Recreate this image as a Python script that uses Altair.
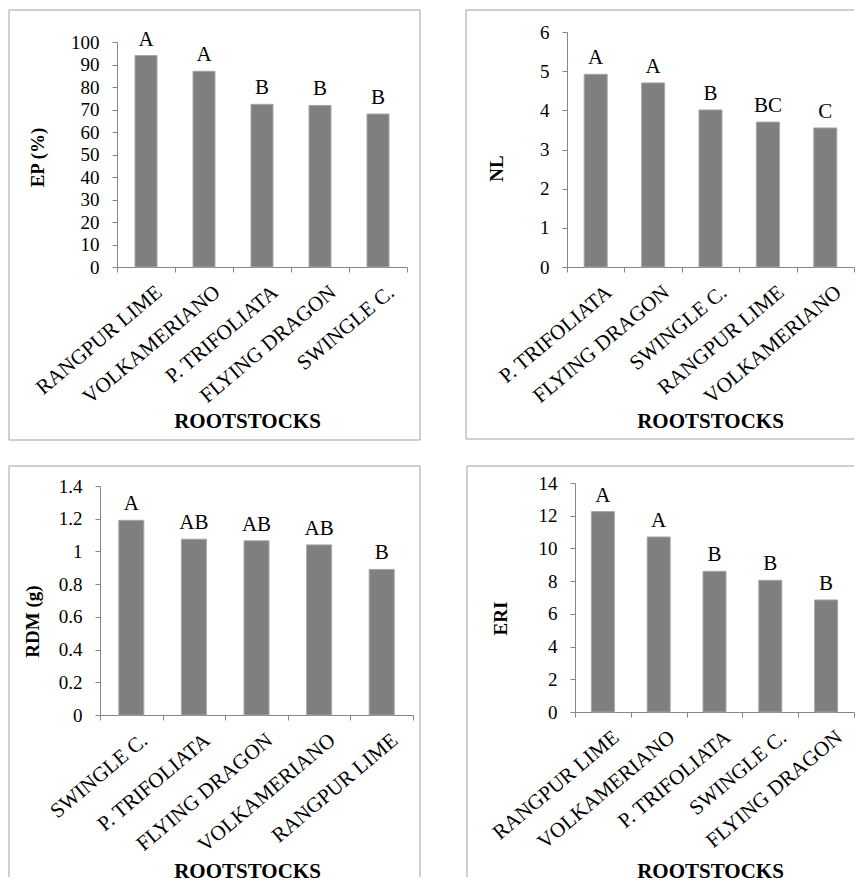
import altair as alt
import pandas as pd

# ---------------- data ----------------
ep_cats = ["RANGPUR LIME", "VOLKAMERIANO", "P. TRIFOLIATA", "FLYING DRAGON", "SWINGLE C."]
ep_vals = [94, 87, 72.3, 71.8, 68]
ep_letters = ["A", "A", "B", "B", "B"]
ep_ticks = [0, 10, 20, 30, 40, 50, 60, 70, 80, 90, 100]

nl_cats = ["P. TRIFOLIATA", "FLYING DRAGON", "SWINGLE C.", "RANGPUR LIME", "VOLKAMERIANO"]
nl_vals = [4.92, 4.70, 4.01, 3.70, 3.55]
nl_letters = ["A", "A", "B", "BC", "C"]
nl_ticks = [0, 1, 2, 3, 4, 5, 6]

rdm_cats = ["SWINGLE C.", "P. TRIFOLIATA", "FLYING DRAGON", "VOLKAMERIANO", "RANGPUR LIME"]
rdm_vals = [1.19, 1.075, 1.065, 1.04, 0.89]
rdm_letters = ["A", "AB", "AB", "AB", "B"]
rdm_ticks = [0, 0.2, 0.4, 0.6, 0.8, 1, 1.2, 1.4]

eri_cats = ["RANGPUR LIME", "VOLKAMERIANO", "P. TRIFOLIATA", "SWINGLE C.", "FLYING DRAGON"]
eri_vals = [12.25, 10.7, 8.6, 8.05, 6.85]
eri_letters = ["A", "A", "B", "B", "B"]
eri_ticks = [0, 2, 4, 6, 8, 10, 12, 14]

x_title = "ROOTSTOCKS"

FONT = "Liberation Serif"
BAR = "#7f7f7f"
BAR_EDGE = "#a6a6a6"
AXIS = "#868686"
BORDER = "#a0a0a0"


def panel(cats, vals, letters, ticks, ymax, ytitle, fmt,
          width, height, xrange, yrange, barw, yoffset,
          ytx, yty, xtx, xty, hsegs, vsegs):
    df = pd.DataFrame({"cat": cats, "val": vals, "lab": letters})
    xscale = alt.Scale(paddingInner=0, paddingOuter=0)
    if xrange is not None:
        xscale = alt.Scale(paddingInner=0, paddingOuter=0, range=xrange)
    yscale = alt.Scale(domain=[0, ymax], nice=False, zero=True)
    if yrange is not None:
        yscale = alt.Scale(domain=[0, ymax], nice=False, zero=True, range=yrange)

    x = alt.X(
        "cat:N", sort=cats, scale=xscale,
        axis=alt.Axis(
            title=x_title, labelAngle=-40, labelAlign="right", labelBaseline="top",
            labelOffset=6, labelPadding=9, labelFontSize=21, labelOverlap=False,
            labelBound=False, labelLimit=400, tickBand="extent", tickSize=5,
            titleX=xtx, titleY=xty, titleAlign="center", titleBaseline="alphabetic",
            titleFontSize=21, titleFontWeight="bold",
        ),
    )
    y = alt.Y(
        "val:Q", scale=yscale,
        axis=alt.Axis(
            title=ytitle, values=ticks, format=fmt, tickSize=5, labelPadding=13,
            labelFontSize=19, offset=yoffset,
            titleX=ytx, titleY=yty, titleAngle=-90, titleAlign="center",
            titleBaseline="middle", titleFontSize=19, titleFontWeight="bold",
        ),
    )
    base = alt.Chart(df)
    bars = base.mark_bar(size=barw, color=BAR, stroke=BAR_EDGE, strokeWidth=1).encode(x=x, y=y)
    text = base.mark_text(
        dy=-10, baseline="alphabetic", font=FONT, fontSize=21, color="black"
    ).encode(x=x, y=y, text="lab:N")

    one = pd.DataFrame({"k": [0]})
    layers = [bars, text]
    for (xa, xb, yy) in hsegs:
        layers.append(
            alt.Chart(one).mark_rule(color=BORDER, strokeWidth=1).encode(
                x=alt.value(xa), x2=alt.value(xb), y=alt.value(yy)
            )
        )
    for (xx, ya, yb) in vsegs:
        layers.append(
            alt.Chart(one).mark_rule(color=BORDER, strokeWidth=1).encode(
                x=alt.value(xx), y=alt.value(ya), y2=alt.value(yb)
            )
        )
    return alt.layer(*layers).properties(width=width, height=height)


p1 = panel(ep_cats, ep_vals, ep_letters, ep_ticks, 100, "EP (%)", "~r",
           307, 235, [17, 307], [235, 10], 22, -17,
           -80, 125, 147, 160,
           hsegs=[(-91, 320, -22), (-91, 320, 408)],
           vsegs=[(-91, -22, 408), (320, -22, 408)])

p2 = panel(nl_cats, nl_vals, nl_letters, nl_ticks, 6, "NL", "~r",
           287, 235, None, None, 23, 0,
           -71, 136, 143, 160,
           hsegs=[(-101, 287, -22), (-101, 287, 407)],
           vsegs=[(-101, -22, 407)])

p3 = panel(rdm_cats, rdm_vals, rdm_letters, rdm_ticks, 1.4, "RDM (g)", "~r",
           313, 232, None, [232, 3], 25, 0,
           -68, 138, 147, 162,
           hsegs=[(-91, 320, -17)],
           vsegs=[(-91, -17, 394), (320, -17, 394)])

p4 = panel(eri_cats, eri_vals, eri_letters, eri_ticks, 14, "ERI", "~r",
           279, 229, None, None, 23, 0,
           -75, 135, 135, 165,
           hsegs=[(-108, 279, -17)],
           vsegs=[(-108, -17, 394)])

chart = alt.vconcat(
    alt.hconcat(p1, p2, spacing=44),
    alt.hconcat(p3, p4, spacing=45),
    spacing=24,
).properties(
    padding={"left": 0, "top": 1, "right": 0, "bottom": 0}
).configure_view(
    stroke=None
).configure_axis(
    labelFont=FONT, titleFont=FONT, labelColor="black", titleColor="black",
    domainColor=AXIS, tickColor=AXIS, grid=False,
)

chart.save("out.html", embed_options={"renderer": "svg", "actions": False})
